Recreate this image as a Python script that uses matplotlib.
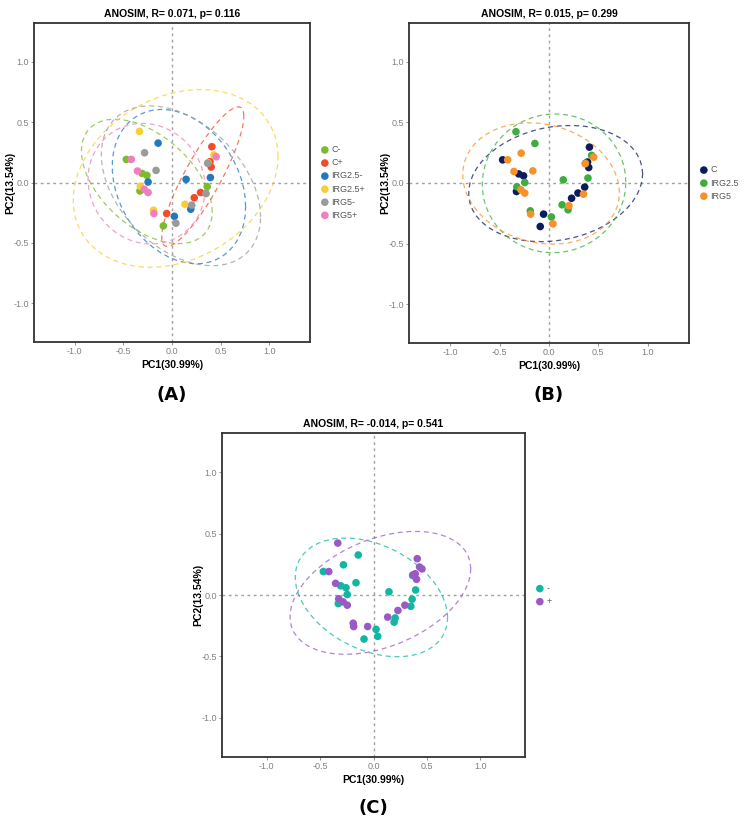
import numpy as np
import matplotlib
matplotlib.use("Agg")
import matplotlib.pyplot as plt

plt.rcParams['font.family'] = ['Liberation Sans', 'DejaVu Sans']
plt.rcParams['axes.unicode_minus'] = False

# PCoA scores of the 36 samples (same ordination in all three panels)
pc1 = [-0.335, -0.143, -0.282, -0.470, -0.419, -0.355, -0.307, -0.258, -0.164,
       -0.246, -0.326, -0.330, -0.285, -0.246, -0.190, -0.186, -0.055, 0.024,
       0.040, -0.089, 0.145, 0.133, 0.203, 0.193, 0.229, 0.294, 0.350,
       0.362, 0.395, 0.403, 0.370, 0.391, 0.432, 0.454, 0.410, 0.367]
pc2 = [0.423, 0.326, 0.246, 0.191, 0.191, 0.095, 0.075, 0.059, 0.100,
       0.004, -0.031, -0.070, -0.056, -0.083, -0.230, -0.257, -0.257, -0.280,
       -0.337, -0.359, 0.026, -0.180, -0.187, -0.221, -0.126, -0.083, -0.092,
       -0.034, 0.041, 0.128, 0.164, 0.173, 0.228, 0.213, 0.296, 0.159]
treatment = ["IRG2.5", "IRG2.5", "IRG5", "C", "IRG5", "IRG5", "C", "C", "IRG5",
             "IRG2.5", "IRG2.5", "C", "IRG5", "IRG5", "IRG2.5", "IRG5", "C", "IRG2.5",
             "IRG5", "C", "IRG2.5", "IRG2.5", "IRG5", "IRG2.5", "C", "C", "IRG5",
             "C", "IRG2.5", "C", "IRG2.5", "C", "IRG2.5", "IRG5", "C", "IRG5"]
sign = ["+", "-", "-", "-", "+", "+", "-", "-", "-",
        "-", "+", "-", "+", "+", "+", "+", "+", "-",
        "-", "-", "-", "+", "-", "-", "+", "+", "-",
        "-", "-", "+", "+", "+", "+", "+", "+", "-"]

groups_a = ["C-", "C+", "IRG2.5-", "IRG2.5+", "IRG5-", "IRG5+"]
colors_a = ["#7DBB2E", "#EF4D2C", "#2479BD", "#F8CE32", "#9B9B9B", "#F27DBF"]
groups_b = ["C", "IRG2.5", "IRG5"]
colors_b = ["#0B1B5C", "#3DAE3D", "#F7922A"]
groups_c = ["-", "+"]
colors_c = ["#12B7A3", "#9B59C6"]

titles = ["ANOSIM, R= 0.071, p= 0.116", "ANOSIM, R= 0.015, p= 0.299",
          "ANOSIM, R= -0.014, p= 0.541"]
panel_tags = ["(A)", "(B)", "(C)"]

pc1 = np.array(pc1)
pc2 = np.array(pc2)
lab_a = np.array([t + s for t, s in zip(treatment, sign)])
lab_b = np.array(treatment)
lab_c = np.array(sign)


def cov_trob(x, nu=5, maxit=25, tol=0.01):
    # port of MASS::cov.trob (what ggplot's stat_ellipse uses by default)
    n, p = x.shape
    wt = np.ones(n)
    loc = x.mean(axis=0)
    w = np.sqrt(wt)
    for _ in range(maxit):
        w0 = w
        X = x - loc
        _, d, vt = np.linalg.svd(np.sqrt(w / w.sum())[:, None] * X, full_matrices=False)
        wX = X @ vt.T @ np.diag(1 / d)
        Q = (wX ** 2).sum(axis=1)
        w = wt * (nu + p) / (nu + Q)
        loc = (w[:, None] * x).sum(axis=0) / w.sum()
        if np.all(np.abs(w - w0) < tol):
            break
    cov = (np.sqrt(w)[:, None] * X).T @ (np.sqrt(w)[:, None] * X) / wt.sum()
    return cov, loc


def ellipse(xs, ys, level=0.95, segments=51):
    pts = np.column_stack([xs, ys])
    cov, center = cov_trob(pts)
    dfd = len(xs) - 1
    fq = (dfd / 2.0) * ((1 - level) ** (-2.0 / dfd) - 1)  # qf(level, 2, dfd)
    radius = np.sqrt(2 * fq)
    ang = np.arange(segments + 1) * 2 * np.pi / segments
    circ = np.column_stack([np.cos(ang), np.sin(ang)])
    L = np.linalg.cholesky(cov)
    e = center + radius * circ @ L.T
    return e[:, 0], e[:, 1]


W, H = 747, 822
fig = plt.figure(figsize=(W / 100, H / 100), dpi=100)


def px_axes(left, top, right, bottom):
    return fig.add_axes([left / W, 1 - bottom / H, (right - left) / W, (bottom - top) / H])


def panel(ax, labels, groups, colors, title):
    ax.axvline(0, color="#A0A0A0", lw=1.0, ls=(0, (2, 2.5)), zorder=1)
    ax.axhline(0, color="#A0A0A0", lw=1.0, ls=(0, (2, 2.5)), zorder=1)
    for g, c in zip(groups, colors):
        m = labels == g
        ex, ey = ellipse(pc1[m], pc2[m])
        ax.plot(ex, ey, color=c, lw=0.9, ls=(0, (4, 3)), alpha=0.75, zorder=2)
    for g, c in zip(groups, colors):
        m = labels == g
        ax.scatter(pc1[m], pc2[m], s=30, color=c, edgecolors="none", zorder=3, label=g)
    ax.set_xlim(-1.42, 1.42)
    ax.set_ylim(-1.32, 1.32)
    ax.set_xticks([-1.0, -0.5, 0.0, 0.5, 1.0])
    ax.set_yticks([-1.0, -0.5, 0.0, 0.5, 1.0])
    ax.tick_params(labelsize=6.5, colors="#808080", length=2, width=0.6, pad=1.5)
    for sp in ax.spines.values():
        sp.set_color("#333333")
        sp.set_linewidth(1.3)
    ax.set_xlabel("PC1(30.99%)", fontsize=7.5, fontweight="bold", labelpad=3)
    ax.set_ylabel("PC2(13.54%)", fontsize=7.5, fontweight="bold")
    bbox = ax.get_position()
    ax.yaxis.set_label_coords(-19 / (bbox.width * W), 0.5)
    ax.set_title(title, fontsize=7.5, fontweight="bold", pad=4)
    ax.legend(loc="center left", bbox_to_anchor=(1 + 4 / (bbox.width * W), 0.5), frameon=False,
              fontsize=6.5, handletextpad=0.1, labelspacing=0.45,
              handlelength=1.2, borderaxespad=0.2, labelcolor="#555555")


ax_a = px_axes(34, 23, 310, 342)
panel(ax_a, lab_a, groups_a, colors_a, titles[0])
ax_b = px_axes(409, 23, 689, 343)
panel(ax_b, lab_b, groups_b, colors_b, titles[1])
ax_c = px_axes(222, 433, 525, 757)
panel(ax_c, lab_c, groups_c, colors_c, titles[2])

tag_font = dict(fontsize=13, fontweight="bold", family="DejaVu Sans", ha="center", va="center")
fig.text(172 / W, 1 - 395 / H, panel_tags[0], **tag_font)
fig.text(549 / W, 1 - 395 / H, panel_tags[1], **tag_font)
fig.text(373 / W, 1 - 808 / H, panel_tags[2], **tag_font)

fig.savefig("out.png", dpi=100)
